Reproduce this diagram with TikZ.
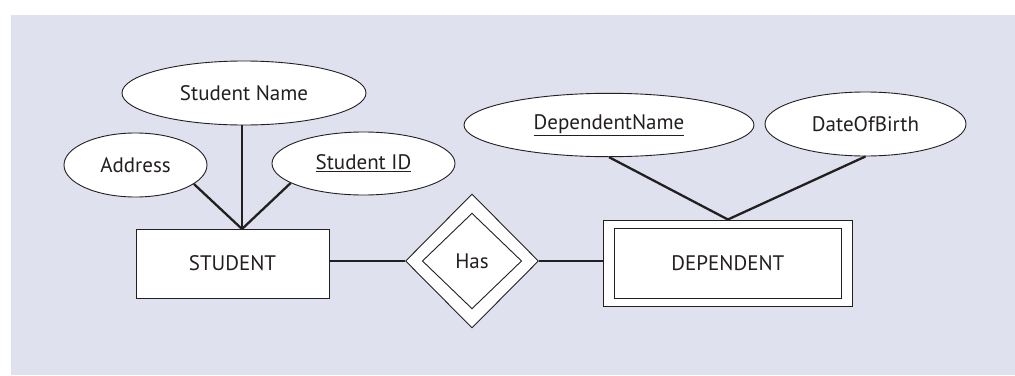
\documentclass[tikz,border=0pt]{standalone}
\usepackage{fontspec}
\setmainfont{PT Sans}
\usetikzlibrary{shapes.geometric}
\definecolor{panel}{RGB}{223,225,238}
\definecolor{ink}{RGB}{35,31,32}
\begin{document}
\begin{tikzpicture}[x=1pt,y=-1pt,
  attr/.style={ellipse,draw=ink,fill=white,line width=0.9pt,inner sep=0pt},
  ent/.style={rectangle,draw=ink,fill=white,line width=0.9pt,inner sep=0pt},
  rel/.style={diamond,draw=ink,fill=white,line width=0.9pt,inner sep=0pt},
  link/.style={draw=ink,line width=2.3pt},
  font=\fontsize{21}{24}\selectfont, text=ink]
\useasboundingbox (0,0) rectangle (1015,375);
\fill[panel] (11,15) rectangle (1015,375);
\node[attr, minimum width=244, minimum height=64] (sname) at (244,93) {Student Name};
\node[attr, minimum width=143, minimum height=64] (addr) at (135.5,165) {Address};
\node[attr, minimum width=183, minimum height=63] (sid) at (363.5,163.5) {\underline{Student ID}};
\node[ent, minimum width=193, minimum height=69] (student) at (232.5,263.5) {STUDENT};
\node[rel, minimum width=133, minimum height=134] (has) at (472,261) {};
\node[rel, minimum width=99.4, minimum height=95.7] (hasin) at (472,261) {Has};
\node[ent, minimum width=248.3, minimum height=86.7] (dep) at (727.9,263.3) {};
\node[ent, minimum width=227.5, minimum height=70] (depin) at (dep.center) {DEPENDENT};
\node[attr, minimum width=290, minimum height=63.4] (dname) at (609,125) {\underline{DependentName}};
\node[attr, minimum width=201, minimum height=64] (dob) at (865.5,124) {DateOfBirth};
\coordinate (sj) at (242,229);
\draw[link] (sname.south -| sj) -- (sj);
\draw[link] (addr.-18) -- (sj);
\draw[link] (sid.-165) -- (sj);
\draw[link] (student.east |- has.west) -- (has.west);
\draw[link] (has.east) -- (has.east -| dep.west);
\draw[link] (dname.south) -- (dep.north);
\draw[link] (dob.south) -- (dep.north);
\end{tikzpicture}
\end{document}
